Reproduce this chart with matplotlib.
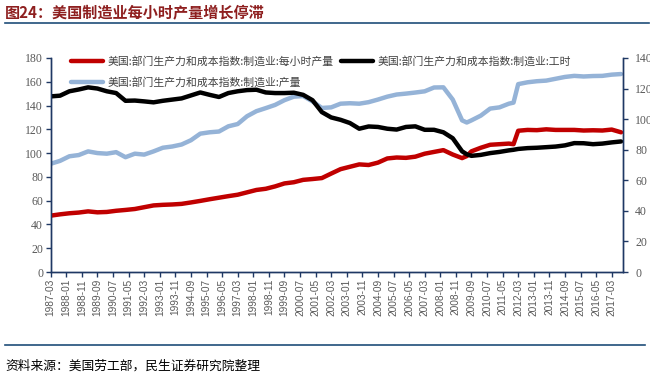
import matplotlib
matplotlib.use("Agg")
import matplotlib.pyplot as plt
from matplotlib.lines import Line2D
from matplotlib.patches import Rectangle

CJK = ["Noto Sans CJK SC", "DejaVu Sans"]

# ---- data -------------------------------------------------------------------
dates = ["1987-03", "1987-09", "1988-03", "1988-09", "1989-03", "1989-09",
         "1990-03", "1990-09", "1991-03", "1991-09", "1992-03", "1992-09",
         "1993-03", "1993-09", "1994-03", "1994-09", "1995-03", "1995-09",
         "1996-03", "1996-09", "1997-03", "1997-09", "1998-03", "1998-09",
         "1999-03", "1999-09", "2000-03", "2000-09", "2001-03", "2001-09",
         "2002-03", "2002-09", "2003-03", "2003-09", "2004-03", "2004-09",
         "2005-03", "2005-09", "2006-03", "2006-09", "2007-03", "2007-09",
         "2008-03", "2008-09", "2009-03", "2009-06", "2009-09", "2010-03",
         "2010-09", "2011-03", "2011-09", "2011-12", "2012-03", "2012-09",
         "2013-03", "2013-09", "2014-03", "2014-09", "2015-03", "2015-09",
         "2016-03", "2016-09", "2017-03", "2017-09"]

# output per hour (left axis)
per_hour = [47.4, 48.5, 49.4, 50.0, 51.0, 50.2, 50.5, 51.5, 52.2, 53.0, 54.5, 56.0,
            56.5, 56.8, 57.3, 58.5, 59.8, 61.2, 62.5, 63.8, 65.0, 67.0, 69.0, 70.0,
            72.0, 74.5, 75.5, 77.5, 78.2, 79.0, 82.8, 86.5, 88.5, 90.5, 90.0, 92.0,
            95.5, 96.3, 96.0, 97.0, 99.5, 101.0, 102.5, 98.8, 95.8, 97.5, 101.5, 104.5,
            107.0, 107.5, 108.0, 107.5, 118.8, 119.5, 119.3, 120.0, 119.5, 119.5, 119.5, 119.0,
            119.2, 119.0, 119.8, 117.5]

# hours worked (left axis)
hours = [147.7, 148.3, 152.0, 153.5, 155.3, 154.3, 152.0, 150.5, 144.0, 144.2, 143.5, 142.7,
         144.0, 145.0, 146.0, 148.5, 151.0, 149.0, 147.2, 150.5, 152.0, 153.0, 153.3, 151.0,
         150.5, 150.5, 150.8, 149.0, 144.5, 134.5, 130.0, 128.0, 125.3, 120.5, 122.4, 122.0,
         120.5, 119.8, 122.0, 122.5, 119.6, 119.6, 117.5, 112.5, 101.5, 99.0, 97.7, 98.5,
         100.0, 101.0, 102.3, 102.8, 103.5, 104.2, 104.5, 105.0, 105.5, 106.5, 108.4, 108.3,
         107.5, 108.0, 109.0, 109.8]

# output (right axis)
output = [70.8, 72.7, 75.7, 76.5, 78.9, 77.8, 77.4, 78.4, 75.1, 77.4, 76.8, 78.9,
          81.3, 82.1, 83.4, 86.2, 90.5, 91.4, 91.9, 95.3, 96.8, 101.9, 105.2, 107.2,
          109.3, 112.4, 114.7, 115.1, 111.6, 107.3, 107.7, 110.1, 110.4, 110.1, 111.1, 112.8,
          114.7, 116.1, 116.7, 117.4, 118.2, 120.7, 120.8, 112.8, 99.2, 97.8, 99.2, 102.3,
          106.9, 107.7, 110.1, 110.8, 122.9, 124.1, 124.8, 125.2, 126.4, 127.6, 128.3, 127.9,
          128.2, 128.3, 129.1, 129.5]

tick_labels = ["1987-03", "1988-01", "1988-11", "1989-09", "1990-07", "1991-05",
               "1992-03", "1993-01", "1993-11", "1994-09", "1995-07", "1996-05",
               "1997-03", "1998-01", "1998-11", "1999-09", "2000-07", "2001-05",
               "2002-03", "2003-01", "2003-11", "2004-09", "2005-07", "2006-05",
               "2007-03", "2008-01", "2008-11", "2009-09", "2010-07", "2011-05",
               "2012-03", "2013-01", "2013-11", "2014-09", "2015-07", "2016-05",
               "2017-03"]

labels = ["美国:部门生产力和成本指数:制造业:每小时产量",
          "美国:部门生产力和成本指数:制造业:产量",
          "美国:部门生产力和成本指数:制造业:工时"]


def month_index(s):
    y, m = s.split("-")
    return (int(y) - 1987) * 12 + int(m) - 3


x = [month_index(d) for d in dates]
xt = [month_index(d) for d in tick_labels]

# ---- figure ------------------------------------------------------------------
NAVY = "#1F3864"
GREY = "#595959"
fig = plt.figure(figsize=(6.54, 3.78), dpi=100)
ax = fig.add_axes([0.0775, 0.2804, 0.8745, 0.5662])
ax2 = ax.twinx()
ax.set_zorder(ax2.get_zorder() + 1)
ax.patch.set_visible(False)

l_blue, = ax2.plot(x, output, color="#95B3D7", lw=3.2, solid_capstyle="round")
l_red, = ax.plot(x, per_hour, color="#C00000", lw=3.2, solid_capstyle="round")
l_black, = ax.plot(x, hours, color="#000000", lw=3.2, solid_capstyle="round")

ax.set_xlim(0, 367)
ax.set_ylim(0, 180)
ax.set_yticks(range(0, 181, 20))
ax2.set_ylim(0, 140)
ax2.set_yticks(range(0, 141, 20))
ax.set_xticks(xt)
ax.set_xticklabels(tick_labels, rotation=90, fontsize=7.3,
                   family="Liberation Sans", color=GREY)

for a in (ax, ax2):
    a.spines["top"].set_visible(False)
    for s in ("left", "right", "bottom"):
        a.spines[s].set_color(NAVY)
        a.spines[s].set_linewidth(1.0)
    a.tick_params(axis="y", colors=NAVY, length=3.5, width=1.0, labelcolor=GREY,
                  labelsize=8.5, pad=2)
    for t in a.get_yticklabels():
        t.set_family("Liberation Serif")
ax2.tick_params(axis="y", pad=5.5)
ax.tick_params(axis="x", colors=NAVY, length=3.5, width=1.0, labelcolor=GREY, pad=1.5)

leg = ax.legend([l_red, l_blue, l_black], labels, ncol=2,
                loc="upper left", bbox_to_anchor=(0.108, 0.852),
                bbox_transform=fig.transFigure, frameon=False,
                prop={"family": CJK, "size": 7.8},
                handlelength=3.0, handletextpad=0.45, columnspacing=0.6,
                labelspacing=0.9, borderpad=0, borderaxespad=0)
for t in leg.get_texts():
    t.set_color("#404040")

# title, rules and source note
fig.text(0.008, 0.965, "图24：美国制造业每小时产量增长停滞", family=CJK,
         fontsize=10.9, fontweight="bold", color="#8E1F1F", va="center")
fig.add_artist(Line2D([0.008, 0.992], [0.939, 0.939], color="#1F4E79", lw=1.2))
fig.add_artist(Line2D([0.008, 0.986], [0.087, 0.087], color="#1F4E79", lw=1.2))
fig.text(0.008, 0.032, "资料来源：美国劳工部，民生证券研究院整理", family=CJK,
         fontsize=9.2, color="#000000", va="center")

# the reference is cropped just past the right-axis labels
fig.add_artist(Rectangle((0.9935, 0.1), 0.01, 0.8, transform=fig.transFigure,
                         facecolor="white", edgecolor="none", zorder=10))

fig.savefig("out.png", dpi=100)
